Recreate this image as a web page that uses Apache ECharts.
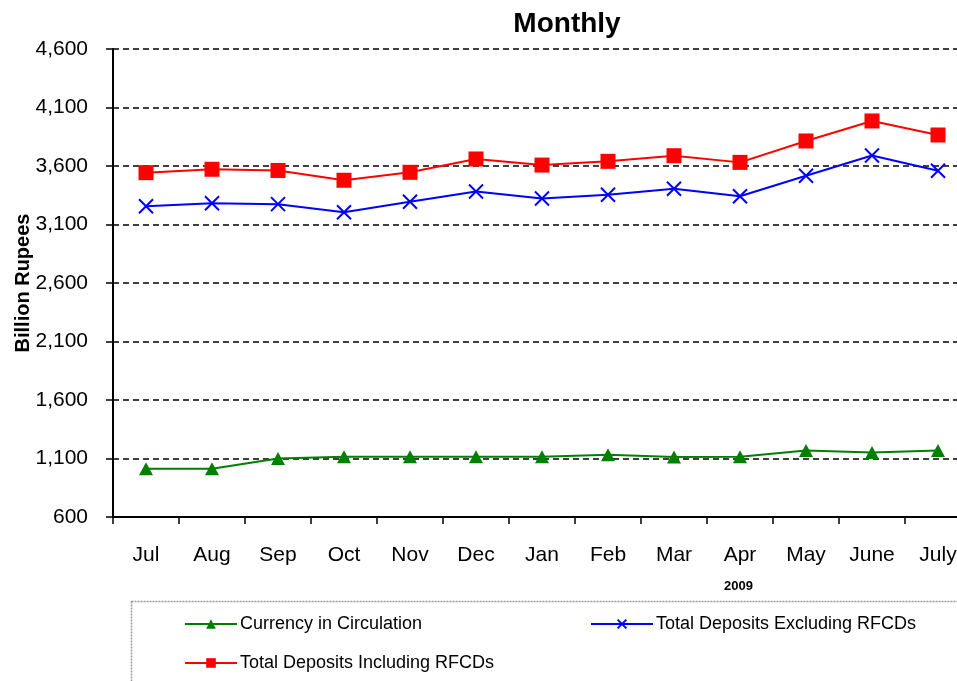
<!DOCTYPE html>
<html>
<head>
<meta charset="utf-8">
<script src="https://cdn.jsdelivr.net/npm/echarts@6/dist/echarts.min.js"></script>
<style>
html,body{margin:0;padding:0;background:#fff;}
#chart{width:957px;height:681px;}
</style>
</head>
<body>
<div id="chart"></div>
<script>
const categories = ['Jul','Aug','Sep','Oct','Nov','Dec','Jan','Feb','Mar','Apr','May','June','July'];
const currency = [1012,1012,1100,1114,1114,1114,1116,1132,1112,1114,1168,1152,1168];
const depositsExcl = [3256,3282,3274,3205,3294,3382,3322,3354,3405,3342,3516,3690,3559];
const depositsIncl = [3543,3572,3562,3478,3546,3660,3608,3640,3688,3631,3814,3985,3865];
const yTicks = [600,1100,1600,2100,2600,3100,3600,4100,4600];
const yearLabel = '2009';

const font = '"Liberation Sans", Arial, sans-serif';
const crossPath = 'path://M0,0L10,10M10,0L0,10';

const chart = echarts.init(document.getElementById('chart'), null, {renderer:'canvas'});
chart.setOption({
  backgroundColor:'#fff',
  animation:false,
  title:{
    text:'Monthly', left:562, top:5, textAlign:'center',
    textStyle:{fontFamily:font, fontSize:28, fontWeight:'bold', color:'#000'}
  },
  grid:{left:113, top:49, right:-14, bottom:164, containLabel:false, outerBoundsMode:'none'},
  xAxis:{
    type:'category', data:categories, boundaryGap:true,
    axisLine:{lineStyle:{color:'#000', width:2}},
    axisTick:{show:true, alignWithLabel:false, length:7, lineStyle:{color:'#000', width:1.5}},
    axisLabel:{fontFamily:font, fontSize:21, color:'#000', margin:28, interval:0},
    splitLine:{show:false}
  },
  yAxis:{
    type:'value', min:600, max:4600,
    axisLine:{show:true, lineStyle:{color:'#000', width:2}},
    axisTick:{show:true, length:7, customValues:yTicks, lineStyle:{color:'#000', width:1.5}},
    axisLabel:{fontFamily:font, fontSize:21, color:'#000', margin:25, customValues:yTicks,
      formatter:v=>v.toLocaleString('en-US')},
    splitLine:{show:true, lineStyle:{color:'#000', type:[6,4], width:1.5}},
    name:'Billion Rupees', nameLocation:'middle', nameGap:80, nameRotate:90, nameMoveOverlap:false,
    nameTextStyle:{fontFamily:font, fontSize:20, fontWeight:'bold', color:'#000'}
  },
  legend:[
    {data:[{name:'Currency in Circulation'}], left:179, top:610, itemWidth:52, itemHeight:12,
      textStyle:{fontFamily:font, fontSize:18, color:'#000', padding:[0,0,0,-2]}},
    {data:[{name:'Total Deposits Excluding RFCDs'}], left:585, top:610, itemWidth:62, itemHeight:11,
      textStyle:{fontFamily:font, fontSize:18, color:'#000', padding:[0,0,0,-2]}},
    {data:[{name:'Total Deposits Including RFCDs'}], left:179, top:649, itemWidth:52, itemHeight:12,
      textStyle:{fontFamily:font, fontSize:18, color:'#000', padding:[0,0,0,-2]}}
  ],
  graphic:[
    {type:'rect', shape:{x:131.5, y:601.5, width:840, height:100},
      style:{fill:'none', stroke:'#999', lineWidth:1.5, lineDash:[2,1]}, z:-1},
    {type:'text', left:724, top:580,
      style:{text:yearLabel, fontFamily:font, fontSize:13, fontWeight:'bold', fill:'#000'}}
  ],
  series:[
    {name:'Currency in Circulation', type:'line', data:currency,
      symbol:'triangle', symbolSize:[14,13], showAllSymbol:true,
      lineStyle:{color:'#008000', width:2}, itemStyle:{color:'#008000'}},
    {name:'Total Deposits Excluding RFCDs', type:'line', data:depositsExcl,
      symbol:crossPath, symbolSize:14, showAllSymbol:true,
      lineStyle:{color:'#0000ff', width:2}, itemStyle:{color:'none', borderColor:'#0000ff', borderWidth:2}},
    {name:'Total Deposits Including RFCDs', type:'line', data:depositsIncl,
      symbol:'rect', symbolSize:15, showAllSymbol:true,
      lineStyle:{color:'#ff0000', width:2}, itemStyle:{color:'#ff0000'}}
  ]
});
</script>
</body>
</html>
